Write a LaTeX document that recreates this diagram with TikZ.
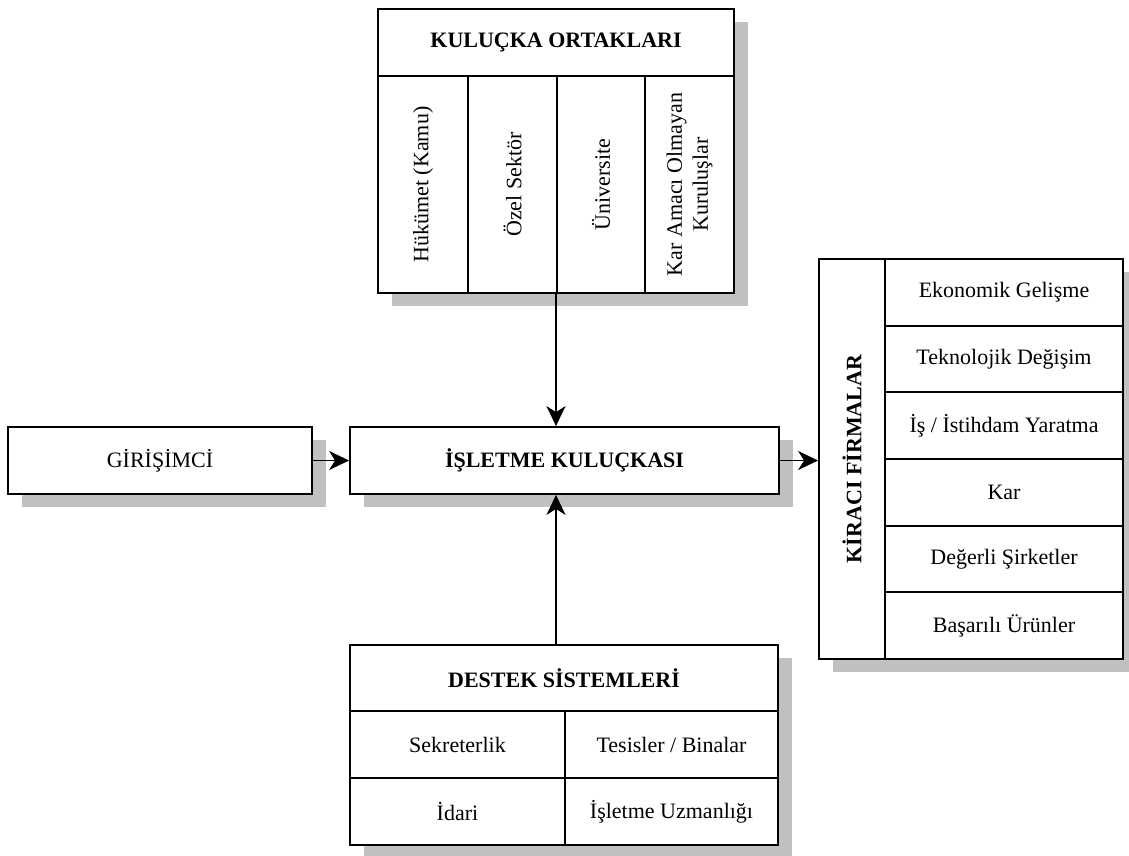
\documentclass[tikz,border=0pt]{standalone}
\usepackage{fontspec}
\setmainfont{Liberation Serif}
\usetikzlibrary{arrows.meta,shadows}
\definecolor{shade}{HTML}{C0C0C0}
\begin{document}
\begin{tikzpicture}[x=1pt,y=-1pt,
  box/.style={draw, line width=1.8pt, fill=white, inner sep=0pt, font=\fontsize{22}{26}\selectfont},
  shad/.style={general shadow={fill=shade, shadow xshift=14pt, shadow yshift=-13pt}},
  arr/.style={line width=1.8pt, -{Stealth[length=20pt,width=19pt,inset=6pt]}},
  sep/.style={line width=1.8pt},
  lbl/.style={font=\fontsize{22}{26}\selectfont, align=center, inner sep=0pt},
  ttl/.style={lbl, font=\fontsize{22}{26}\selectfont\bfseries}]
\useasboundingbox (0,0) rectangle (1129,855);

% Kulucka ortaklari
\node[box,shad,minimum width=356pt,minimum height=284pt] (partners) at (556,151) {};
\draw[sep] (378,76) -- (734,76);
\draw[sep] (468,76) -- (468,293);
\draw[sep] (557,76) -- (557,293);
\draw[sep] (645,76) -- (645,293);
\node[ttl] (ptitle) at (556,42.5) {KULUÇKA ORTAKLARI};
\node[lbl,rotate=90] (gov) at (423,184.5) {Hükümet (Kamu)};
\node[lbl,rotate=90] (priv) at (512.5,184.5) {Özel Sektör};
\node[lbl,rotate=90] (uni) at (601,184.5) {Üniversite};
\node[lbl,rotate=90] (npo) at (689.5,184.5) {Kar Amacı Olmayan\\Kuruluşlar};

% Girisimci
\node[box,shad,minimum width=304pt,minimum height=67pt] (gir) at (160,460.5) {GİRİŞİMCİ};

% Isletme kulucka
\node[box,shad,minimum width=429pt,minimum height=67pt,font=\fontsize{22}{26}\selectfont\bfseries] (inc) at (564.5,460.5) {İŞLETME KULUÇKASI};

% Kiraci firmalar
\node[box,shad,minimum width=304pt,minimum height=400pt] (tenant) at (971,459) {};
\draw[sep] (885,259) -- (885,659);
\draw[sep] (885,325.7) -- (1123,325.7);
\draw[sep] (885,392.3) -- (1123,392.3);
\draw[sep] (885,459) -- (1123,459);
\draw[sep] (885,525.7) -- (1123,525.7);
\draw[sep] (885,592.3) -- (1123,592.3);
\node[ttl,rotate=90] (ttitle) at (852,459) {KİRACI FİRMALAR};
\node[lbl] (t1) at (1004,292.3) {Ekonomik Gelişme};
\node[lbl] (t2) at (1004,359) {Teknolojik Değişim};
\node[lbl] (t3) at (1004,425.7) {İş / İstihdam Yaratma};
\node[lbl] (t4) at (1004,492.3) {Kar};
\node[lbl] (t5) at (1004,559) {Değerli Şirketler};
\node[lbl] (t6) at (1004,625.7) {Başarılı Ürünler};

% Destek sistemleri
\node[box,shad,minimum width=428pt,minimum height=200pt] (support) at (564,745) {};
\draw[sep] (350,711) -- (778,711);
\draw[sep] (350,778) -- (778,778);
\draw[sep] (565,711) -- (565,845);
\node[ttl] (stitle) at (564,678) {DESTEK SİSTEMLERİ};
\node[lbl] (s1) at (457.5,744.5) {Sekreterlik};
\node[lbl] (s2) at (671.5,744.5) {Tesisler / Binalar};
\node[lbl] (s3) at (457.5,811.5) {İdari};
\node[lbl] (s4) at (671.5,811.5) {İşletme Uzmanlığı};

% Connectors
\draw[arr] (partners.south) -- (partners.south |- inc.north);
\draw[arr] (partners.south |- support.north) -- (partners.south |- inc.south);
\draw[arr] (gir.east) -- (inc.west);
\draw[arr] (inc.east) -- (inc.east -| tenant.west);
\end{tikzpicture}
\end{document}
